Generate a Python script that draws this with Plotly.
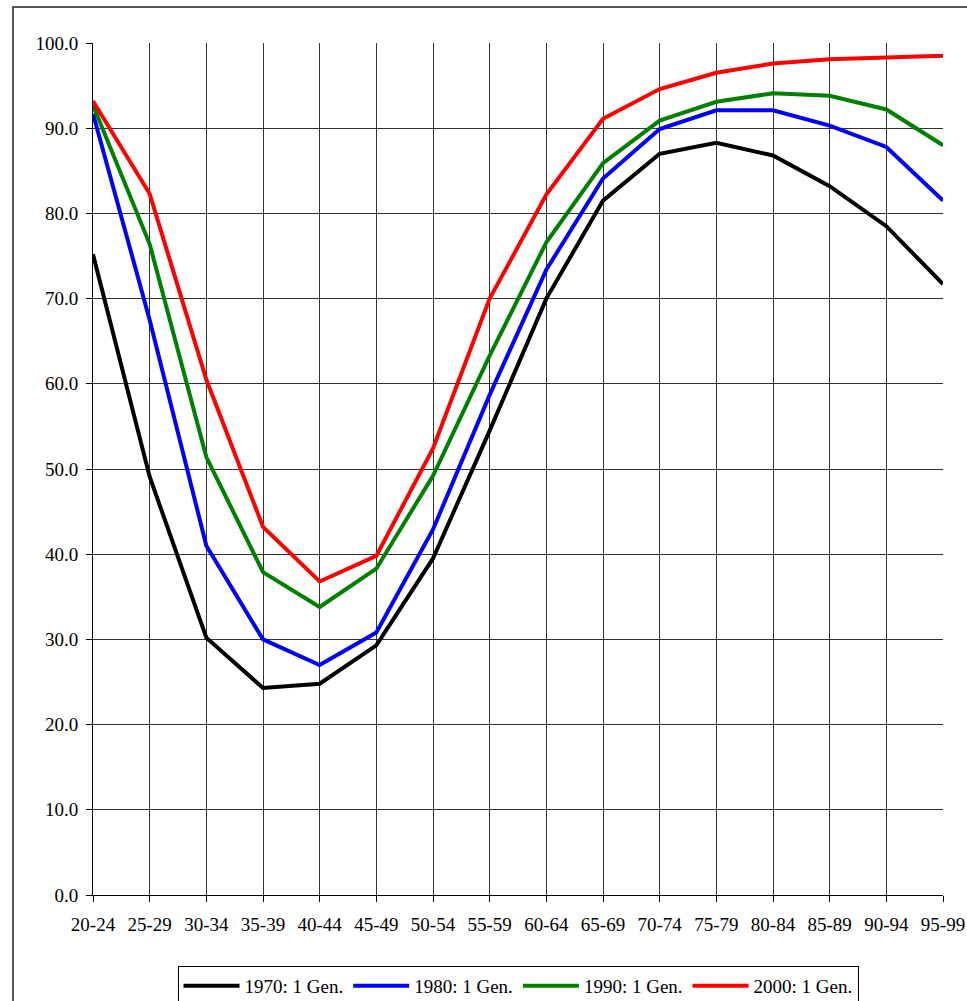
import plotly.graph_objects as go

categories = ["20-24", "25-29", "30-34", "35-39", "40-44", "45-49", "50-54", "55-59",
              "60-64", "65-69", "70-74", "75-79", "80-84", "85-89", "90-94", "95-99"]
s1970 = [75.2, 49.1, 30.2, 24.3, 24.8, 29.3, 39.5, 54.5, 70.0, 81.5, 87.0, 88.3, 86.8, 83.2, 78.5, 71.7]
s1980 = [91.7, 67.5, 41.0, 30.0, 27.0, 30.8, 42.9, 58.7, 73.4, 84.1, 89.9, 92.1, 92.1, 90.3, 87.8, 81.5]
s1990 = [92.7, 76.4, 51.4, 37.9, 33.8, 38.3, 49.2, 63.3, 76.6, 85.9, 90.9, 93.1, 94.1, 93.8, 92.2, 88.0]
s2000 = [93.2, 82.3, 60.5, 43.2, 36.8, 39.8, 52.4, 70.0, 82.2, 91.1, 94.6, 96.5, 97.6, 98.1, 98.3, 98.5]
series_names = ["1970: 1 Gen.", "1980: 1 Gen.", "1990: 1 Gen.", "2000: 1 Gen."]
series_colors = ["#000000", "#0000FF", "#008000", "#FF0000"]
yticks = [0, 10, 20, 30, 40, 50, 60, 70, 80, 90, 100]

xidx = list(range(len(categories)))
fig = go.Figure()
for name, vals, col in zip(series_names, [s1970, s1980, s1990, s2000], series_colors):
    fig.add_trace(go.Scatter(x=xidx, y=vals, mode="lines", name=name,
                             line=dict(color=col, width=4)))

font = dict(family="Liberation Serif, Times New Roman, serif", size=19, color="#000")
W, H = 967, 1001
L, R, T, B = 93, 24, 43, 106
pw, ph = W - L - R, H - T - B

fig.update_layout(
    width=W, height=H,
    margin=dict(l=L, r=R, t=T, b=B, autoexpand=False),
    paper_bgcolor="white", plot_bgcolor="white",
    font=font,
    showlegend=True,
    legend=dict(orientation="h", x=0.5, xanchor="center",
                y=(ph - (966 - T)) / ph, yanchor="top",
                bordercolor="#000", borderwidth=1, bgcolor="white",
                font=font, itemwidth=56, tracegroupgap=0),
    xaxis=dict(range=[0, len(categories) - 1], tickvals=xidx, ticktext=categories,
               showgrid=True, gridcolor="#333", gridwidth=1,
               showline=True, linecolor="#000", linewidth=1,
               ticks="outside", ticklen=6, tickcolor="#000",
               ticklabelstandoff=6, automargin=False,
               zeroline=False, tickangle=0),
    yaxis=dict(range=[0, 100], tickvals=yticks, tickformat=".1f",
               showgrid=True, gridcolor="#333", gridwidth=1,
               showline=True, linecolor="#000", linewidth=1,
               ticks="outside", ticklen=6, tickcolor="#000",
               ticklabelstandoff=4, automargin=False,
               zeroline=False),
)

# outer chart frame (left and top edges visible)
fig.add_shape(type="rect", xref="paper", yref="paper",
              x0=(13 - L) / pw, x1=(W + 20 - L) / pw,
              y0=-(H + 20 - (T + ph)) / ph, y1=(T + ph - 7) / ph,
              line=dict(color="#222", width=1.5), fillcolor="rgba(0,0,0,0)", layer="below")

fig.write_html("out.html", config={"displayModeBar": False},
               post_script="document.body.style.margin='0';document.body.style.overflow='hidden';")
